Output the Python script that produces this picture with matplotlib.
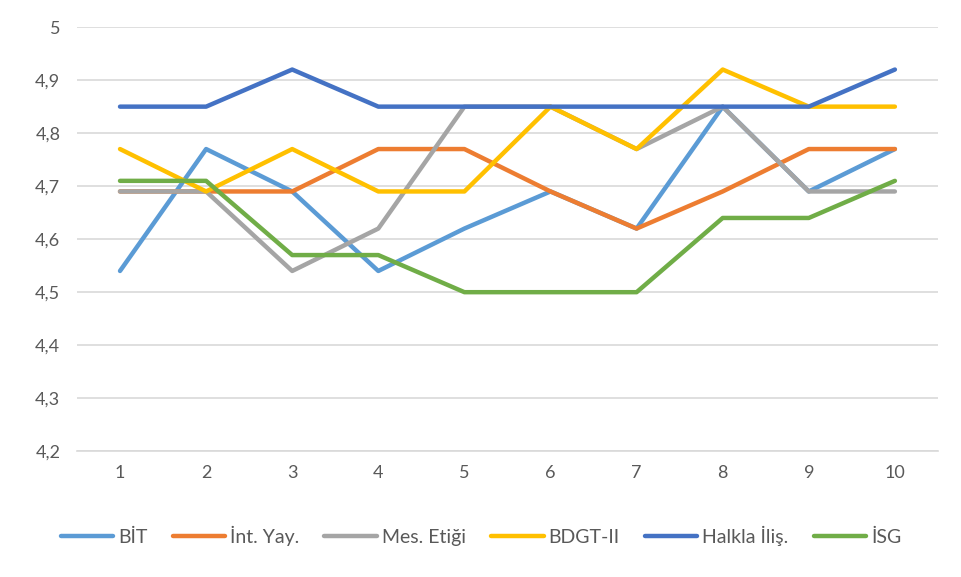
import matplotlib
matplotlib.use("Agg")
import matplotlib.pyplot as plt
from matplotlib.ticker import FuncFormatter

x = [1, 2, 3, 4, 5, 6, 7, 8, 9, 10]
series_names = ["BİT", "İnt. Yay.", "Mes. Etiği", "BDGT-II", "Halkla İliş.", "İSG"]
bit = [4.54, 4.77, 4.69, 4.54, 4.62, 4.69, 4.62, 4.85, 4.69, 4.77]
int_yay = [4.69, 4.69, 4.69, 4.77, 4.77, 4.69, 4.62, 4.69, 4.77, 4.77]
mes_etigi = [4.69, 4.69, 4.54, 4.62, 4.85, 4.85, 4.77, 4.85, 4.69, 4.69]
bdgt = [4.77, 4.69, 4.77, 4.69, 4.69, 4.85, 4.77, 4.92, 4.85, 4.85]
halkla = [4.85, 4.85, 4.92, 4.85, 4.85, 4.85, 4.85, 4.85, 4.85, 4.92]
isg = [4.71, 4.71, 4.57, 4.57, 4.50, 4.50, 4.50, 4.64, 4.64, 4.71]
y_ticks = [4.2, 4.3, 4.4, 4.5, 4.6, 4.7, 4.8, 4.9, 5.0]

colors = ["#5B9BD5", "#ED7D31", "#A5A5A5", "#FFC000", "#4472C4", "#70AD47"]
data = [bit, int_yay, mes_etigi, bdgt, halkla, isg]

plt.rcParams['font.family'] = ['Lato', 'DejaVu Sans']
fig = plt.figure(figsize=(9.62, 5.77), dpi=100)
ax = fig.add_axes([0.080, 0.218, 0.895, 0.735])

for vals, name, c in zip(data, series_names, colors):
    ax.plot(x, vals, color=c, lw=3.2, label=name, solid_capstyle='round', solid_joinstyle='round')

ax.set_xlim(0.5, 10.5)
ax.set_ylim(4.2, 5.0)
ax.set_yticks(y_ticks)
ax.yaxis.set_major_formatter(FuncFormatter(lambda v, p: ("%g" % round(v, 1)).replace('.', ',')))
ax.set_xticks(x)
ax.grid(axis='y', color='#D9D9D9', lw=1.2)
ax.set_axisbelow(True)
for s in ['top', 'right', 'left']:
    ax.spines[s].set_visible(False)
ax.spines['bottom'].set_color('#D9D9D9')
ax.spines['bottom'].set_linewidth(1.2)
ax.tick_params(axis='both', length=0, labelsize=13, colors='#595959', pad=10)
ax.tick_params(axis='y', pad=12)

leg = fig.legend(loc='center', bbox_to_anchor=(0.5, 0.071), ncol=6, frameon=False,
                 fontsize=14, handlelength=2.7, columnspacing=1.3, handletextpad=0.25)
for t in leg.get_texts():
    t.set_color('#595959')

fig.savefig("out.png", dpi=100)
